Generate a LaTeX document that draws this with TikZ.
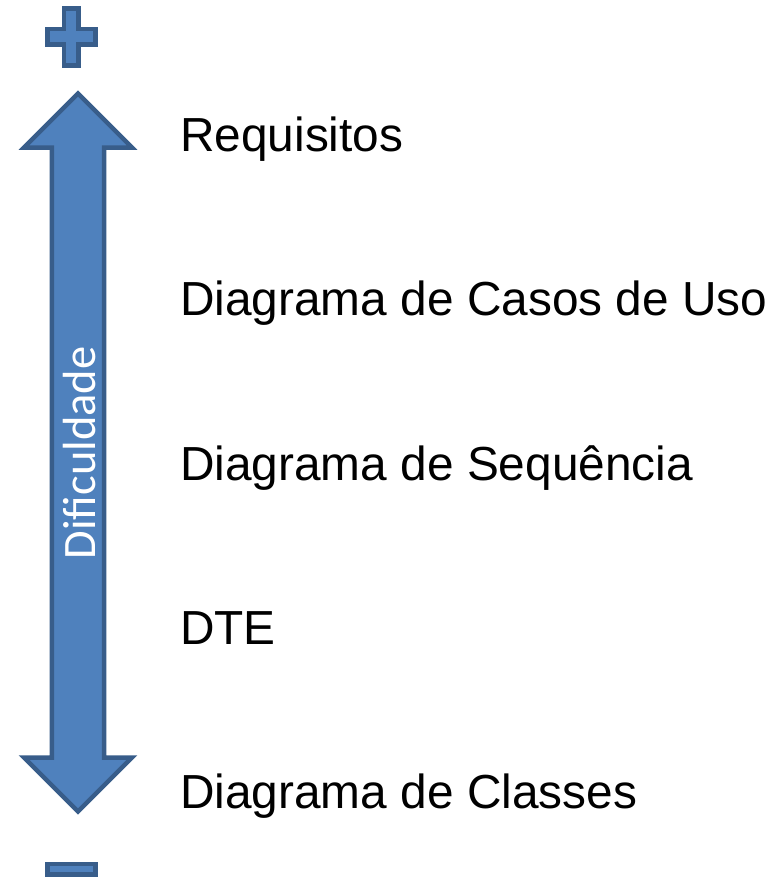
\documentclass[tikz,border=0pt]{standalone}
\usepackage{fontspec}
\setmainfont{Liberation Sans}
\newfontfamily\calib{Carlito}
\begin{document}
\begin{tikzpicture}[x=1pt,y=-1pt,
  shapestyle/.style={fill=arrowfill,draw=arrowline,line width=4.5pt,line join=miter,miter limit=10},
  itemlabel/.style={anchor=base west,inner sep=0pt,font=\fontsize{47.8}{57}\selectfont,text=black},
  axislabel/.style={anchor=base,inner sep=0pt,rotate=90,font=\calib\fontsize{46.5}{55}\selectfont,text=white}]
\definecolor{arrowfill}{HTML}{4F81BD}
\definecolor{arrowline}{HTML}{385D8A}
\useasboundingbox (0,0) rectangle (782,878);
% plus sign
\draw[shapestyle] (64,8.3) -- (78.7,8.3) -- (78.7,29) -- (95.4,29) -- (95.4,44.4) -- (78.7,44.4)
  -- (78.7,65.4) -- (64,65.4) -- (64,44.4) -- (47.6,44.4) -- (47.6,29) -- (64,29) -- cycle;
% minus sign
\draw[shapestyle] (47.6,864) rectangle (95.4,874.4);
% double arrow
\draw[shapestyle] (78,93.5) -- (132,147.5) -- (104.2,147.5) -- (104.2,757.5) -- (132,757.5)
  -- (78,811.5) -- (24,757.5) -- (51.8,757.5) -- (51.8,147.5) -- (24,147.5) -- cycle;
\node[axislabel] (dif) at (95.5,453) {Dificuldade};
\node[itemlabel] (req) at (180,151.5) {Requisitos};
\node[itemlabel] (uso) at (180,315.8) {Diagrama de Casos de Uso};
\node[itemlabel] (seq) at (180,480) {Diagrama de Sequência};
\node[itemlabel] (dte) at (180,644.3) {DTE};
\node[itemlabel] (cls) at (180,808.5) {Diagrama de Classes};
\end{tikzpicture}
\end{document}
